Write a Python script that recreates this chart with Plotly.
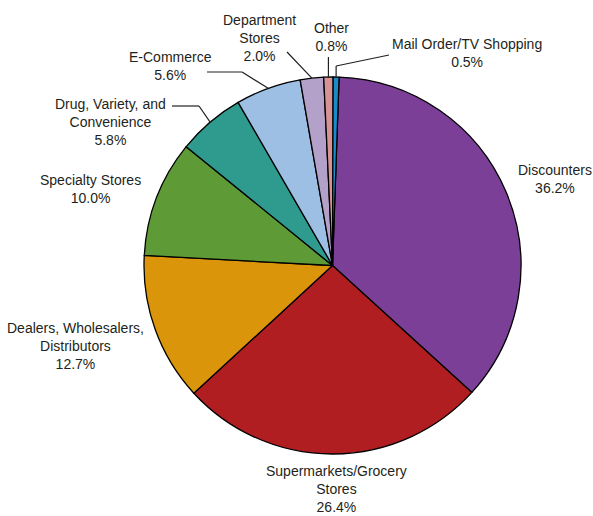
import math
import plotly.graph_objects as go

W, H = 593, 516

categories = ["Discounters", "Supermarkets/Grocery Stores", "Dealers, Wholesalers, Distributors",
              "Specialty Stores", "Drug, Variety, and Convenience", "E-Commerce",
              "Department Stores", "Other", "Mail Order/TV Shopping"]
values = [36.2, 26.4, 12.7, 10.0, 5.8, 5.6, 2.0, 0.8, 0.5]
label_texts = ["Discounters<br>36.2%", "Supermarkets/Grocery<br>Stores<br>26.4%",
               "Dealers, Wholesalers,<br>Distributors<br>12.7%", "Specialty Stores<br>10.0%",
               "Drug, Variety, and<br>Convenience<br>5.8%", "E-Commerce<br>5.6%",
               "Department<br>Stores<br>2.0%", "Other<br>0.8%", "Mail Order/TV Shopping<br>0.5%"]
colors = ["#7B3F98", "#B11E22", "#DB950A", "#5E9A36", "#2E9B8E", "#9CBFE3", "#B3A1C9", "#D79394", "#1A8ACB"]

# layout (pixel) positions of label centres
label_pos = [(555, 179), (336, 489), (75, 346), (90, 189), (110, 122), (170, 66),
             (259, 38), (332, 37), (467, 53)]
# leader-line elbows (pixel), last point is computed on the arc
leaders = {4: [(172, 106), (199, 106)], 5: [(207, 72), (242, 72)], 6: [(287, 52)],
           7: [(None, 57)], 8: [(389, 55), (None, 66)]}

cx, cy, R = 332.5, 265.5, 188.5
rotation = 2

def P(x, y):
    return x / W, 1 - y / H

fig = go.Figure(go.Pie(
    labels=categories, values=values, sort=False, direction="clockwise", rotation=rotation,
    marker=dict(colors=colors, line=dict(color="#000000", width=1.3)),
    textinfo="none", hoverinfo="skip", showlegend=False,
    domain=dict(x=[(cx - R) / W, (cx + R) / W], y=[1 - (cy + R) / H, 1 - (cy - R) / H]),
))

font = dict(family="Liberation Sans, Arial, sans-serif", size=14, color="#231F20")
for t, (x, y) in zip(label_texts, label_pos):
    px, py = P(x, y)
    fig.add_annotation(x=px, y=py, xref="paper", yref="paper", text=t, showarrow=False,
                       xanchor="center", yanchor="middle", align="center", font=font)

total = sum(values)
cum = 0
mids = []
for v in values:
    mids.append((cum + v / 2) / total * 360 + rotation)
    cum += v

for i, pts in leaders.items():
    a = math.radians(mids[i])
    ax, ay = cx + R * math.sin(a), cy - R * math.cos(a)
    full = [(ax if x is None else x, y) for x, y in pts] + [(ax, ay)]
    for (x0, y0), (x1, y1) in zip(full[:-1], full[1:]):
        p0, p1 = P(x0, y0), P(x1, y1)
        fig.add_shape(type="line", xref="paper", yref="paper", x0=p0[0], y0=p0[1], x1=p1[0], y1=p1[1],
                      line=dict(color="#231F20", width=1.2))

fig.update_layout(width=W, height=H, margin=dict(l=0, r=0, t=0, b=0),
                  paper_bgcolor="white", plot_bgcolor="white")
fig.write_html("out.html")
